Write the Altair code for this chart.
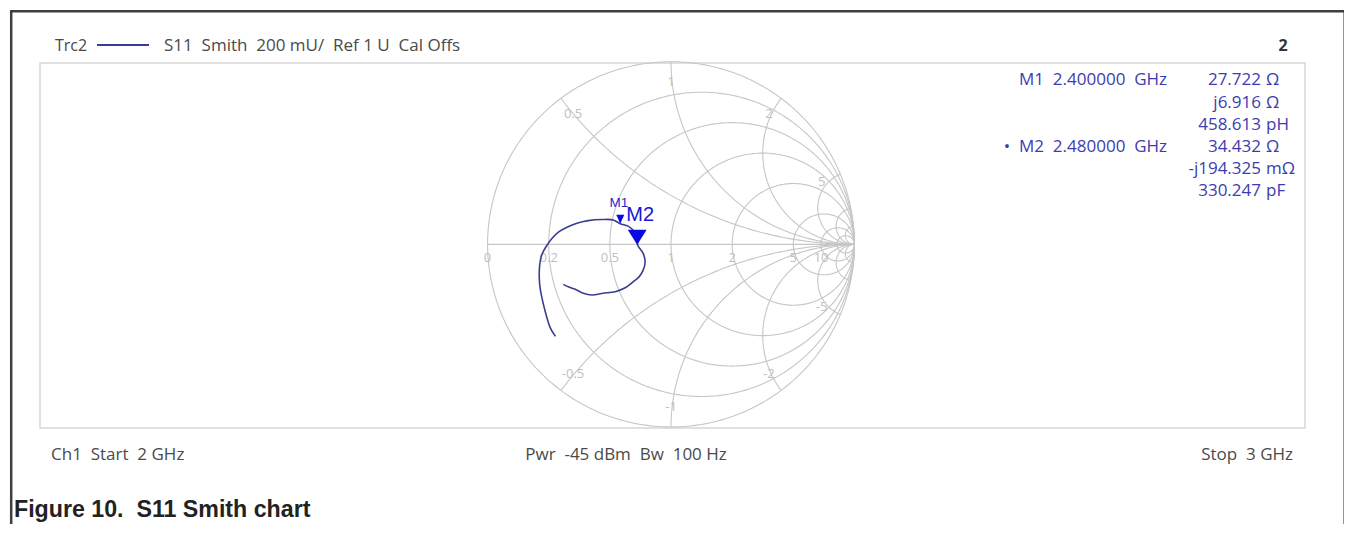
import numpy as np
import pandas as pd
import altair as alt

# ---------------- data ----------------
R_CIRCLES = [0, 0.2, 0.5, 1, 2, 5, 10, 20]
X_ARCS = [0.5, 1, 2, 5, 10, 20, -0.5, -1, -2, -5, -10, -20]
R_TICKS = [0, 0.2, 0.5, 1, 2, 5, 10]
R_TICK_LABELS = ["0", "0.2", "0.5", "1", "2", "5", "10"]
X_TICKS = [0.5, 1, 2, 5, -0.5, -1, -2, -5]
X_TICK_LABELS = ["0.5", "1", "2", "5", "-0.5", "-1", "-2", "-5"]

# S11 trace (reflection coefficient, real / imaginary), 2 GHz -> 3 GHz
TRACE_RE = [-0.630, -0.658, -0.685, -0.707, -0.717, -0.716, -0.707, -0.693,
            -0.676, -0.648, -0.614, -0.567, -0.513, -0.451, -0.377, -0.315,
            -0.277, -0.234, -0.201, -0.181, -0.182, -0.152, -0.141, -0.152,
            -0.174, -0.207, -0.250, -0.304, -0.370, -0.431, -0.478, -0.522,
            -0.560, -0.587]
TRACE_IM = [-0.504, -0.457, -0.370, -0.277, -0.207, -0.114, -0.065, -0.033,
            -0.005, 0.033, 0.067, 0.094, 0.116, 0.130, 0.136, 0.134,
            0.113, 0.100, 0.071, 0.031, -0.003, -0.049, -0.096, -0.141,
            -0.178, -0.205, -0.238, -0.259, -0.268, -0.277, -0.268, -0.246,
            -0.232, -0.219]

MARKER_NAMES = ["M1", "M2"]
MARKER_R_OHM = [27.722, 34.432]
MARKER_X_OHM = [6.916, -0.194325]
Z0 = 50.0

HEADER_TRACE = "Trc2"
HEADER_TEXT = "S11\u00a0 Smith\u00a0 200 mU/\u00a0 Ref 1 U\u00a0 Cal Offs"
HEADER_RIGHT = "2"
FOOT_LEFT = "Ch1\u00a0 Start\u00a0 2 GHz"
FOOT_MID = "Pwr\u00a0 -45 dBm\u00a0 Bw\u00a0 100 Hz"
FOOT_RIGHT = "Stop\u00a0 3 GHz"
CAPTION = "Figure 10.\u00a0 S11 Smith chart"
INFO_FREQ = ["M1\u00a0 2.400000\u00a0 GHz", "M2\u00a0 2.480000\u00a0 GHz"]
INFO_NUM = ["27.722", "j6.916", "458.613", "34.432", "-j194.325", "330.247"]
INFO_UNIT = ["\u03a9", "\u03a9", "pH", "\u03a9", "m\u03a9", "pF"]

# ---------------- layout ----------------
OX, OY = 8, 8
W, H = 1336, 516
CXP, CYP, RP = 671.0, 244.2, 184.0


def px(x):
    return x - OX


def py(y):
    return y - OY


xs = alt.Scale(domain=[(OX - CXP) / RP, (OX + W - CXP) / RP], nice=False, zero=False)
ys = alt.Scale(domain=[(CYP - OY - H) / RP, (CYP - OY) / RP], nice=False, zero=False)

VNA_FONT = "Open Sans"
GRAY_TXT = "#4a4a4a"
BLUE_TXT = "#3c3cb0"
GRID_COL = "#c6c6c6"

# ---------------- Smith grid ----------------
rows = []
gid = 0
tt = np.linspace(0, 2 * np.pi, 361)
for r in R_CIRCLES:
    c = r / (1 + r)
    rad = 1 / (1 + r)
    for k, t in enumerate(tt):
        rows.append((round(c + rad * np.cos(t), 5), round(rad * np.sin(t), 5), gid, k))
    gid += 1
rr = np.concatenate([[0.0], np.geomspace(1e-3, 1e4, 300)])
for xv in X_ARCS:
    z = rr + 1j * xv
    g = (z - 1) / (z + 1)
    for k, gg in enumerate(g):
        rows.append((round(gg.real, 5), round(gg.imag, 5), gid, k))
    gid += 1
rows.append((-1.0, 0.0, gid, 0))
rows.append((1.0, 0.0, gid, 1))
grid = pd.DataFrame(rows, columns=["gx", "gy", "gid", "k"])

rlab = pd.DataFrame({
    "gx": [(r - 1) / (r + 1) for r in R_TICKS],
    "gy": [-0.076] * len(R_TICKS),
    "lab": R_TICK_LABELS,
})
xg = [((x * x - 1) + 2j * x) / (x * x + 1) for x in X_TICKS]
xlab = pd.DataFrame({
    "gx": [0.89 * g.real for g in xg],
    "gy": [0.89 * g.imag for g in xg],
    "lab": X_TICK_LABELS,
})

trace = pd.DataFrame({"gx": TRACE_RE, "gy": TRACE_IM, "i": list(range(len(TRACE_RE)))})

mk = []
for n, R, X in zip(MARKER_NAMES, MARKER_R_OHM, MARKER_X_OHM):
    z = complex(R, X) / Z0
    g = (z - 1) / (z + 1)
    mk.append({"name": n, "gx": g.real, "gy": g.imag})
mk = pd.DataFrame(mk)
m1 = mk[mk["name"] == "M1"]
m2 = mk[mk["name"] == "M2"]

X = alt.X("gx:Q", scale=xs, axis=None)
Y = alt.Y("gy:Q", scale=ys, axis=None)

one = pd.DataFrame({"a": [0]})

layers = []

# frames
layers.append(alt.Chart(one).mark_rect(filled=False, color="#d6d6d6", strokeWidth=1.5).encode(
    x=alt.value(px(38)), x2=alt.value(px(1303)), y=alt.value(py(61)), y2=alt.value(py(426))))
for (x1, x2, y1, y2) in [(1.2, 1.2, 0, H), (0, W, 1.2, 1.2), (W - 1.3, W - 1.3, 0, H)]:
    layers.append(alt.Chart(one).mark_rule(color="#3f3f3f", strokeWidth=2.5).encode(
        x=alt.value(x1), x2=alt.value(x2), y=alt.value(y1), y2=alt.value(y2)))

# grid
layers.append(alt.Chart(grid).mark_line(color=GRID_COL, strokeWidth=1.1).encode(
    x=X, y=Y, detail="gid:N", order="k:Q"))
layers.append(alt.Chart(rlab).mark_text(font=VNA_FONT, fontSize=13, color="#c0c0c0",
                                         baseline="middle").encode(x=X, y=Y, text="lab:N"))
layers.append(alt.Chart(xlab).mark_text(font=VNA_FONT, fontSize=13, color="#c0c0c0",
                                         baseline="middle").encode(x=X, y=Y, text="lab:N"))

# trace
layers.append(alt.Chart(trace).mark_line(color="#3d3d90", strokeWidth=1.6,
                                          interpolate="catmull-rom").encode(x=X, y=Y, order="i:Q"))

# markers
layers.append(alt.Chart(m1).mark_point(shape="M-1,-2.2L1,-2.2L0,0Z", size=64, filled=True,
                                        color="#0a0ae0", opacity=1).encode(x=X, y=Y))
layers.append(alt.Chart(m2).mark_point(shape="M-1,-1.6L1,-1.6L0,0Z", size=361, filled=True,
                                        color="#0a0ae0", opacity=1).encode(x=X, y=Y))
layers.append(alt.Chart(m1).mark_text(font="Liberation Sans", fontSize=13.5, color="#2a2ad0",
                                       baseline="middle", dx=-1.5, dy=-21).encode(x=X, y=Y, text="name:N"))
layers.append(alt.Chart(m2).mark_text(font="Liberation Sans", fontSize=20, color="#1515d8",
                                       baseline="middle", dx=3, dy=-30).encode(x=X, y=Y, text="name:N"))


def txt(s, x, y, size, color, align="left", weight="normal", font=VNA_FONT):
    return alt.Chart(one).mark_text(text=s, align=align, baseline="alphabetic", fontSize=size,
                                    color=color, font=font, fontWeight=weight).encode(
        x=alt.value(px(x)), y=alt.value(py(y)))


# header
layers.append(txt(HEADER_TRACE, 53, 48.5, 16, GRAY_TXT))
layers.append(alt.Chart(one).mark_rule(color="#3b3b95", strokeWidth=2).encode(
    x=alt.value(px(95)), x2=alt.value(px(147)), y=alt.value(py(43))))
layers.append(txt(HEADER_TEXT, 162, 48.5, 17, GRAY_TXT))
layers.append(txt(HEADER_RIGHT, 1281, 48.5, 16, "#333333", align="center", weight="bold"))

# footer
layers.append(txt(FOOT_LEFT, 49, 458, 17, GRAY_TXT))
layers.append(txt(FOOT_MID, 624, 458, 17, GRAY_TXT, align="center"))
layers.append(txt(FOOT_RIGHT, 1291, 458, 17, GRAY_TXT, align="right"))

# marker info
ROWS_Y = [83, 105.5, 127.5, 150, 172, 194]
layers.append(txt(INFO_FREQ[0], 1017, ROWS_Y[0], 17, BLUE_TXT))
layers.append(txt(INFO_FREQ[1], 1017, ROWS_Y[3], 17, BLUE_TXT))
layers.append(txt("\u2022", 1005, ROWS_Y[3], 17, BLUE_TXT, align="center"))
for i, (n, u) in enumerate(zip(INFO_NUM, INFO_UNIT)):
    layers.append(txt(n, 1259, ROWS_Y[i], 17, BLUE_TXT, align="right"))
    layers.append(txt(u, 1264, ROWS_Y[i], 17, BLUE_TXT))

# caption
layers.append(txt(CAPTION, 12, 515, 23.2, "#222222", weight="bold", font="Liberation Sans"))

chart = alt.layer(*layers).properties(
    width=W, height=H, padding=0, background="white",
    autosize=alt.AutoSizeParams(type="fit", contains="padding"),
).configure_view(stroke=None)

chart.save("out.html", embed_options={"renderer": "svg", "actions": False})
